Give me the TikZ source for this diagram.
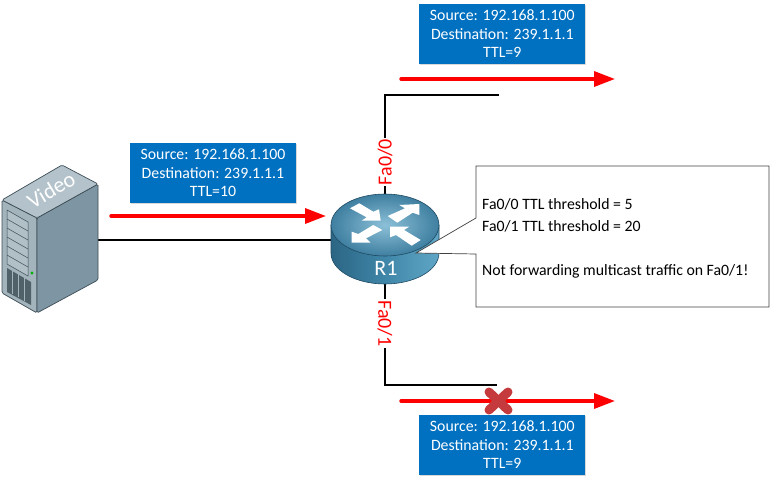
\documentclass[tikz,border=0pt]{standalone}
\usepackage{fontspec}
\setmainfont{Carlito}
\usetikzlibrary{arrows.meta,shadows}
\definecolor{boxblue}{HTML}{0070C0}
\definecolor{servertop}{HTML}{B4C3CB}
\definecolor{serverfront}{HTML}{A3B4BD}
\definecolor{serverside}{HTML}{7E95A3}
\definecolor{serverline}{HTML}{3C4C55}
\definecolor{crossred}{HTML}{C53A3C}
\definecolor{routerline}{HTML}{1F4A63}
\definecolor{routerlight}{HTML}{8CC0D8}
\definecolor{routeredge}{HTML}{3F7FA0}
\definecolor{routerleft}{HTML}{2C6584}
\definecolor{routermid}{HTML}{3F86A8}
\definecolor{routerright}{HTML}{5FA6C6}
\tikzset{
  wire/.style={draw=black, line width=1.8pt},
  flow/.style={draw=red, line width=3.4pt, line cap=round, -{Triangle[length=21pt,width=15pt]}},
  packetbox/.style={fill=boxblue, text=white, align=center, inner sep=0pt, minimum width=166pt, minimum height=60pt,
    font=\fontsize{15.8}{18.5}\selectfont, drop shadow={shadow xshift=1pt, shadow yshift=-1pt, opacity=.3}},
  portlabel/.style={text=red, fill=white, inner sep=1pt, font=\fontsize{20}{20}\selectfont},
  notetext/.style={anchor=west, inner sep=0pt, font=\fontsize{15.8}{16}\selectfont},
  routerarrow/.style={fill=white, draw=none},
  crossarm/.style={draw=crossred, line width=9pt, line cap=round},
}
\begin{document}
\begin{tikzpicture}[x=1pt,y=-1pt]
\useasboundingbox (0,0) rectangle (772,482);

% Fixed points of the links
\coordinate (video) at (98,240);
\coordinate (r1) at (385,240);
\coordinate (upcorner) at (385,95);
\coordinate (upend) at (499,95);
\coordinate (downcorner) at (385,385);
\coordinate (downend) at (497,385);

% Links
\draw[wire] (video) -- (r1);
\draw[wire] (r1) -- (upcorner) -- (upend);
\draw[wire] (r1) -- (downcorner) -- (downend);

% Port labels
\node[portlabel, rotate=90] (fa0) at (385,162) {Fa0/0};
\node[portlabel, rotate=-90] (fa1) at (385,323.5) {Fa0/1};

% Server
\draw[serverline, fill=serverfront, line width=.7pt, rounded corners=1.5pt] (2,200) -- (37,218) -- (37,313) -- (2,293) -- cycle;
\draw[serverline, fill=serverside, line width=.7pt, rounded corners=1.5pt] (37,218) -- (98,184) -- (98,280) -- (37,313) -- cycle;
\draw[serverline, fill=servertop, line width=.7pt, rounded corners=1.5pt] (2,200) -- (62,165) -- (98,184) -- (37,218) -- cycle;
\draw[serverline, fill=serverfront!85!white, line width=.5pt] (7,210) -- (28,222) -- (28,276) -- (7,264) -- cycle;
\foreach \i in {1,...,5} {
  \draw[serverline, line width=.5pt] (7,210+9*\i) -- (28,222+9*\i);
}
\fill[serverline!80!serverfront] (7,268) -- (31,282) -- (31,305) -- (7,292) -- cycle;
\foreach \i in {0,1,2} {
  \draw[serverfront, line width=.7pt] (12+6*\i,271+3.4*\i) -- (12+6*\i,294+3.4*\i);
}
\fill[green!70!black] (32,273) circle (1.6pt);
\node[rotate=31, text=white, inner sep=0pt, font=\fontsize{22}{22}\selectfont] (videolabel) at (51,190) {Video};

% Router
\shade[left color=routerleft, right color=routerright, middle color=routermid]
  (331,225) -- (331,253) arc[start angle=180, end angle=360, x radius=54pt, y radius=31pt] -- (439,225) -- cycle;
\draw[routerline, line width=.6pt] (331,225) -- (331,253) arc[start angle=180, end angle=360, x radius=54pt, y radius=31pt] -- (439,225);
\shade[draw=routerline, line width=.6pt, inner color=routerlight, outer color=routeredge] (385,225) ellipse [x radius=54pt, y radius=31pt];
\fill[routerarrow] (350,208.3) -- (359.3,203.3) -- (373.3,211.7) -- (379,209.3) -- (380.7,220.7) -- (361.7,220.7) -- (366.7,217.3) -- cycle;
\fill[routerarrow] (387.7,216) -- (405,208.3) -- (399.3,205) -- (419.3,204) -- (419.3,215) -- (412.7,212.7) -- (397.3,222.7) -- cycle;
\fill[routerarrow] (351.7,242.7) -- (351.7,231.7) -- (358.3,234) -- (373.3,225) -- (382.3,230) -- (366,238.3) -- (370.7,242.7) -- cycle;
\fill[routerarrow] (390,226.7) -- (409,226.7) -- (404,230) -- (420.7,240) -- (411.7,245.7) -- (396,235) -- (390,237.3) -- cycle;
\node[text=white, inner sep=0pt, font=\fontsize{22}{22}\selectfont] (r1label) at (386,268) {R1};

% Packet boxes
\node[packetbox] (upbox) at (502.3,34) {Source: 192.168.1.100\\Destination: 239.1.1.1\\TTL=9};
\node[packetbox] (inbox) at (213,173) {Source: 192.168.1.100\\Destination: 239.1.1.1\\TTL=10};
\node[packetbox] (downbox) at (502.3,445) {Source: 192.168.1.100\\Destination: 239.1.1.1\\TTL=9};

% Traffic arrows
\coordinate (upstart) at (401,79);
\coordinate (uptip) at (615,79);
\coordinate (instart) at (111,216);
\coordinate (intip) at (326,216);
\coordinate (downstart) at (401,401);
\coordinate (downtip) at (615,401);
\draw[flow] (upstart) -- (uptip);
\draw[flow] (instart) -- (intip);
\draw[flow] (downstart) -- (downtip);

% Note with its pointer
\draw[fill=white, draw=black!75, line width=.7pt] (476,166) -- (769,166) -- (769,307) -- (476,307) -- (476,254) -- (416,253) -- (476,218) -- cycle;
\node[notetext] (ttl0) at (482,204.5) {Fa0/0 TTL threshold = 5};
\node[notetext] (ttl1) at (482,226.5) {Fa0/1 TTL threshold = 20};
\node[notetext] (drop) at (482,271.5) {Not forwarding multicast traffic on Fa0/1!};

% Blocked traffic
\draw[crossarm] (489,392) -- (508,410);
\draw[crossarm] (508,392) -- (489,410);
\end{tikzpicture}
\end{document}
